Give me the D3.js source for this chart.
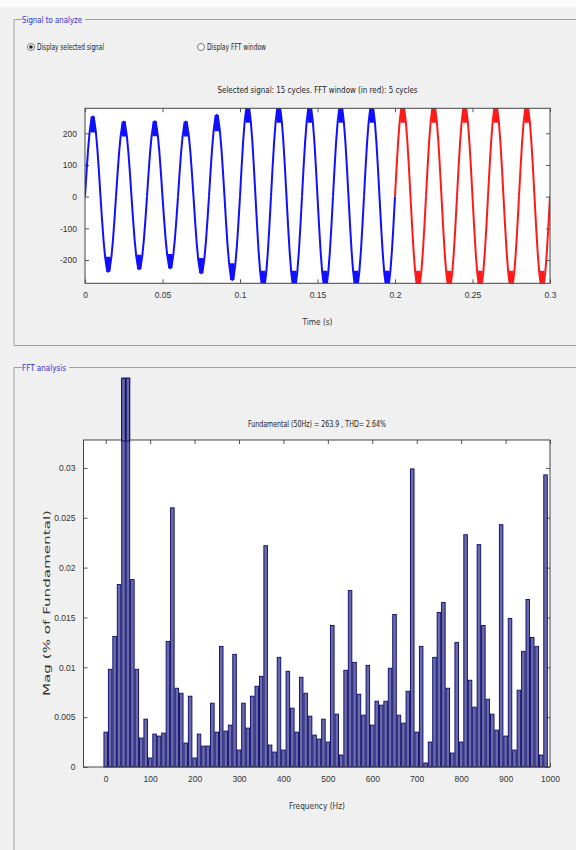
<!DOCTYPE html>
<html>
<head>
<meta charset="utf-8">
<script src="https://cdn.jsdelivr.net/npm/d3@7/dist/d3.min.js"></script>
<style>
  body { margin: 0; background: #f0f0f0; }
  svg { display: block; font-family: "DejaVu Sans Condensed", "Liberation Sans Narrow", "DejaVu Sans", sans-serif; }
</style>
</head>
<body>
<div id="chart"></div>
<script>
// --- signal panel data ---
const timeTicks = [0, 0.05, 0.1, 0.15, 0.2, 0.25, 0.3];
const signalTicks = [-200, -100, 0, 100, 200];
const cyclePeaks = [253, 237, 238, 237, 258, 292, 292, 292, 292, 292, 292, 292, 292, 292, 292];
const cycleTroughs = [-237, -229, -226, -242, -263, -292, -292, -292, -292, -292, -292, -292, -292, -292, -292];
const halfCycleShape = [0, 0.31, 0.59, 0.81, 0.95, 1, 0.95, 0.81, 0.59, 0.31, 0];
const fftStartCycle = 10;

// --- FFT panel data (10 Hz bins) ---
const freqs = d3.range(0, 1000, 10);
const mags = [
  0.0035, 0.0098, 0.0131, 0.0183, 0.039, 0.039, 0.0188, 0.0098, 0.0029, 0.0048,
  0.0009, 0.0033, 0.0031, 0.0034, 0.0126, 0.026, 0.0079, 0.0074, 0.0024, 0.0071,
  0.0009, 0.0033, 0.0021, 0.0021, 0.0064, 0.0035, 0.0121, 0.0036, 0.0042, 0.0113,
  0.0017, 0.0064, 0.0039, 0.0071, 0.0081, 0.0091, 0.0222, 0.0022, 0.0015, 0.011,
  0.0017, 0.0096, 0.0059, 0.0035, 0.009, 0.0074, 0.0051, 0.0032, 0.0028, 0.0048,
  0.0025, 0.0142, 0.0053, 0.0012, 0.0097, 0.0177, 0.0105, 0.0073, 0.0052, 0.0102,
  0.0042, 0.0066, 0.0062, 0.0066, 0.0099, 0.0153, 0.0052, 0.0044, 0.0076, 0.0299,
  0.0035, 0.0121, 0.0004, 0.0025, 0.011, 0.0155, 0.0165, 0.0079, 0.0014, 0.0125,
  0.0025, 0.0233, 0.0087, 0.006, 0.0223, 0.0142, 0.0068, 0.0053, 0.0037, 0.0243,
  0.0031, 0.0149, 0.0017, 0.0077, 0.0116, 0.0168, 0.013, 0.0121, 0.0012, 0.0293
];
const freqTicks = [0, 100, 200, 300, 400, 500, 600, 700, 800, 900, 1000];
const magTicks = [0, 0.005, 0.01, 0.015, 0.02, 0.025, 0.03];

const width = 576, height = 850;
const svg = d3.select("#chart").append("svg")
  .attr("width", width)
  .attr("height", height);

svg.append("rect").attr("width", width).attr("height", height).attr("fill", "#f0f0f0");
svg.append("rect").attr("width", width).attr("height", 7).attr("fill", "#fbfbfb");

// group boxes
function groupBox(y0, y1, title, titleLen) {
  const g = svg.append("g");
  g.append("path")
    .attr("d", `M22,${y0}H14V${y1}H576`)
    .attr("fill", "none").attr("stroke", "#a0a0a0");
  g.append("path")
    .attr("d", `M${22 + titleLen + 3},${y0}H576`)
    .attr("fill", "none").attr("stroke", "#a0a0a0");
  g.append("text")
    .attr("x", 22).attr("y", y0 + 3)
    .attr("font-size", 9)
    .attr("textLength", titleLen).attr("lengthAdjust", "spacingAndGlyphs")
    .attr("fill", "#3030d0")
    .text(title);
}
groupBox(19.5, 345.5, "Signal to analyze", 60);
groupBox(367.5, 851, "FFT analysis", 44);

// radio buttons
const radios = [
  { x: 31, label: "Display selected signal", len: 67, on: true },
  { x: 201, label: "Display FFT window", len: 59, on: false }
];
radios.forEach(r => {
  svg.append("circle").attr("cx", r.x).attr("cy", 47).attr("r", 3.5)
    .attr("fill", "#fff").attr("stroke", "#777");
  if (r.on) svg.append("circle").attr("cx", r.x).attr("cy", 47).attr("r", 1.8).attr("fill", "#222");
  svg.append("text").attr("x", r.x + 6).attr("y", 50)
    .attr("font-size", 8).attr("fill", "#222")
    .attr("textLength", r.len).attr("lengthAdjust", "spacingAndGlyphs")
    .text(r.label);
});

function boxAxes(g, x, y, xt, yt, xfmt, yfmt, left, right, top, bottom) {
  g.append("rect")
    .attr("x", left).attr("y", top)
    .attr("width", right - left).attr("height", bottom - top)
    .attr("fill", "#fff");
  const ax = [
    g.append("g").attr("transform", `translate(0,${bottom})`)
      .call(d3.axisBottom(x).tickValues(xt).tickSize(-4).tickPadding(9).tickFormat(xfmt)),
    g.append("g").attr("transform", `translate(0,${top})`)
      .call(d3.axisTop(x).tickValues(xt).tickSize(-4).tickFormat("")),
    g.append("g").attr("transform", `translate(${left},0)`)
      .call(d3.axisLeft(y).tickValues(yt).tickSize(-4).tickPadding(8).tickFormat(yfmt)),
    g.append("g").attr("transform", `translate(${right},0)`)
      .call(d3.axisRight(y).tickValues(yt).tickSize(-4).tickFormat(""))
  ];
  ax.forEach(a => {
    a.select(".domain").remove();
    a.selectAll("line").attr("stroke", "#555");
    a.selectAll("text").attr("fill", "#333").attr("font-size", 8.5).attr("font-family", null);
  });
}

// ---- top chart: time signal ----
const tx = d3.scaleLinear().domain([0, 0.3]).range([85, 550]);
const ty = d3.scaleLinear().domain([-273.5, 279]).range([283.3, 108.3]);
const sigPanel = svg.append("g");
boxAxes(sigPanel, tx, ty, timeTicks, signalTicks, d => d3.format("")(d), d => d,
  85, 550, 108.3, 283.3);

sigPanel.append("clipPath").attr("id", "sigclip")
  .append("rect").attr("x", 85).attr("y", 108.3).attr("width", 465).attr("height", 175);

const period = 0.3 / cyclePeaks.length;
const halfStep = (period / 2) / (halfCycleShape.length - 1);
const blueCycles = [], redCycles = [];
cyclePeaks.forEach((pk, c) => {
  const pts = [];
  const t0 = c * period;
  halfCycleShape.forEach((s, i) => pts.push([t0 + i * halfStep, s * pk]));
  halfCycleShape.forEach((s, i) => { if (i > 0) pts.push([t0 + period / 2 + i * halfStep, s * cycleTroughs[c]]); });
  (c < fftStartCycle ? blueCycles : redCycles).push({ pts, pk, tr: cycleTroughs[c], t0 });
});

const line = d3.line().x(d => tx(d[0])).y(d => ty(d[1]));
const sigG = sigPanel.append("g").attr("clip-path", "url(#sigclip)");
[[blueCycles, "#1010ff"], [redCycles, "#ff1a1a"]].forEach(([cycles, col]) => {
  cycles.forEach(cy => {
    sigG.append("path").attr("d", line(cy.pts))
      .attr("fill", "none").attr("stroke", col).attr("stroke-width", 2)
      .attr("stroke-linejoin", "round");
    [[cy.t0 + period / 4, cy.pk], [cy.t0 + 3 * period / 4, cy.tr]].forEach(([t, v]) => {
      sigG.append("line")
        .attr("x1", tx(t)).attr("x2", tx(t))
        .attr("y1", ty(v * 0.8)).attr("y2", ty(v))
        .attr("stroke", col).attr("stroke-width", 4.5);
    });
  });
});
sigPanel.append("rect").attr("x", 85).attr("y", 108.3).attr("width", 465).attr("height", 175)
  .attr("fill", "none").attr("stroke", "#444");

sigPanel.append("text").attr("x", 317.5).attr("y", 93).attr("text-anchor", "middle")
  .attr("font-size", 9.5).attr("fill", "#222")
  .attr("textLength", 200).attr("lengthAdjust", "spacingAndGlyphs")
  .text("Selected signal: 15 cycles. FFT window (in red): 5 cycles");
sigPanel.append("text").attr("x", 317.5).attr("y", 325).attr("text-anchor", "middle")
  .attr("font-size", 9).attr("fill", "#333")
  .attr("textLength", 30).attr("lengthAdjust", "spacingAndGlyphs")
  .text("Time (s)");

// ---- bottom chart: FFT ----
const fx = d3.scaleLinear().domain([-50, 1000]).range([83.5, 550]);
const fy = d3.scaleLinear().domain([0, 0.0328]).range([767, 440]);
const fftPanel = svg.append("g");
boxAxes(fftPanel, fx, fy, freqTicks, magTicks, d => d, d => d3.format("")(d),
  83.5, 550, 440, 767);

const bw = fx(8) - fx(0);
fftPanel.append("g").selectAll("rect")
  .data(freqs.map((f, i) => ({ f, m: mags[i] })))
  .join("rect")
  .attr("x", d => fx(d.f) - bw / 2)
  .attr("y", d => fy(d.m))
  .attr("width", bw)
  .attr("height", d => fy(0) - fy(d.m))
  .attr("fill", "#6a6aa6")
  .attr("stroke", "#08086e")
  .attr("stroke-width", 0.9);

fftPanel.append("rect").attr("x", 83.5).attr("y", 440).attr("width", 466.5).attr("height", 327)
  .attr("fill", "none").attr("stroke", "#444");
// bars drawn over the box edge keep the overshoot visible, as in the original
fftPanel.append("g").selectAll("rect")
  .data(freqs.map((f, i) => ({ f, m: mags[i] })).filter(d => d.m > 0.0328))
  .join("rect")
  .attr("x", d => fx(d.f) - bw / 2)
  .attr("y", d => fy(d.m))
  .attr("width", bw)
  .attr("height", d => fy(0.0328) - fy(d.m) + 1)
  .attr("fill", "#6a6aa6")
  .attr("stroke", "#08086e")
  .attr("stroke-width", 0.9);

fftPanel.append("text").attr("x", 317).attr("y", 427).attr("text-anchor", "middle")
  .attr("font-size", 9).attr("fill", "#222")
  .attr("textLength", 138).attr("lengthAdjust", "spacingAndGlyphs")
  .text("Fundamental (50Hz) = 263.9 , THD= 2.64%");
fftPanel.append("text").attr("x", 317).attr("y", 809).attr("text-anchor", "middle")
  .attr("font-size", 9).attr("fill", "#333")
  .attr("textLength", 56).attr("lengthAdjust", "spacingAndGlyphs")
  .text("Frequency (Hz)");
fftPanel.append("text")
  .attr("transform", "translate(50,603) rotate(-90)")
  .attr("text-anchor", "middle")
  .attr("font-size", 9.5).attr("fill", "#333")
  .attr("textLength", 186).attr("lengthAdjust", "spacingAndGlyphs")
  .text("Mag (% of Fundamental)");
</script>
</body>
</html>
